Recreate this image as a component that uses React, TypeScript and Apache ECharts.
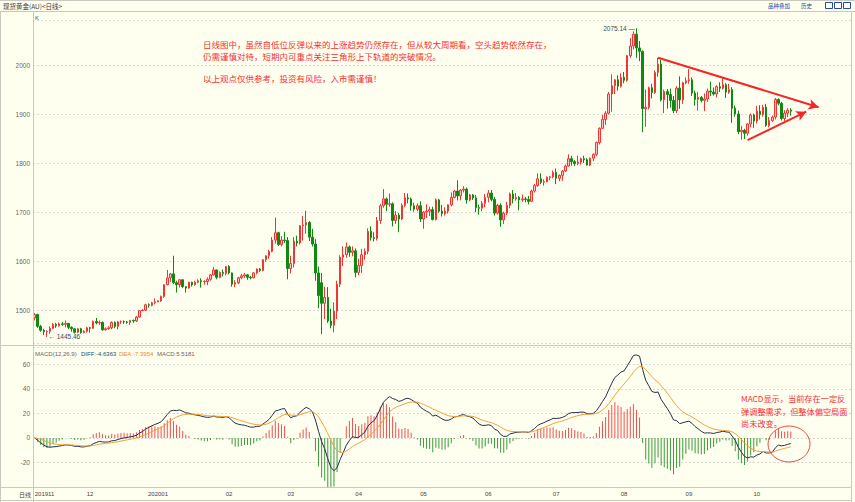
import React, { useEffect, useRef } from "react";
import * as echarts from "echarts";

// ---- daily candles: [open, close, low, high] ----
const nov2019Days = [6, 7, 8, 11, 12, 13, 14, 15, 18, 19, 20, 21, 22, 25, 26, 27, 28, 29];
const nov2019 = [
  [1484, 1491, 1479, 1494], [1491, 1467, 1464, 1493], [1467, 1459, 1456, 1470], [1459, 1456, 1449, 1462],
  [1456, 1457, 1445.46, 1459], [1457, 1463, 1452, 1467], [1463, 1471, 1461, 1474], [1471, 1468, 1464, 1474],
  [1468, 1472, 1466, 1475], [1472, 1471, 1468, 1476], [1471, 1473, 1465, 1479], [1473, 1465, 1461, 1474],
  [1465, 1462, 1456, 1467], [1462, 1455, 1452, 1463], [1455, 1462, 1453, 1464], [1462, 1454, 1452, 1464],
  [1454, 1457, 1453, 1459], [1457, 1464, 1454, 1466],
];
const dec2019Days = [2, 3, 4, 5, 6, 9, 10, 11, 12, 13, 16, 17, 18, 19, 20, 23, 24, 25, 26, 27, 30, 31];
const dec2019 = [
  [1464, 1463, 1454, 1466], [1463, 1477, 1462, 1479], [1477, 1474, 1471, 1484], [1474, 1475, 1470, 1479],
  [1475, 1460, 1458, 1477], [1460, 1462, 1458, 1465], [1462, 1464, 1460, 1467], [1464, 1475, 1461, 1477],
  [1475, 1467, 1463, 1477], [1467, 1476, 1461, 1478], [1476, 1476.5, 1472, 1479], [1476.5, 1476, 1472, 1479],
  [1476, 1475, 1472, 1478], [1475, 1479, 1470, 1480], [1479, 1478, 1474, 1481], [1478, 1486, 1476, 1488],
  [1486, 1499, 1485, 1500], [1499, 1500, 1498, 1502], [1500, 1511, 1498, 1513], [1511, 1510, 1505, 1514],
  [1510, 1515, 1508, 1517], [1515, 1517, 1512, 1524],
];
const jan2020Days = [1, 2, 3, 6, 7, 8, 9, 10, 13, 14, 15, 16, 17, 20, 21, 22, 23, 24, 27, 28, 29, 30, 31];
const jan2020 = [
  [1517, 1519, 1516, 1520], [1519, 1528, 1517, 1530], [1528, 1552, 1525, 1553], [1552, 1566, 1551, 1582],
  [1566, 1574, 1558, 1576], [1574, 1556, 1553, 1611], [1556, 1552, 1536, 1560], [1552, 1562, 1546, 1563],
  [1562, 1548, 1545, 1563], [1548, 1545, 1536, 1549], [1545, 1557, 1544, 1558], [1557, 1552, 1548, 1558],
  [1552, 1557, 1550, 1560], [1557, 1560, 1555, 1563], [1560, 1558, 1546, 1565], [1558, 1558.5, 1552, 1561],
  [1558.5, 1563, 1551, 1567], [1563, 1572, 1560, 1574], [1572, 1582, 1571, 1588], [1582, 1567, 1563, 1583],
  [1567, 1577, 1565, 1579], [1577, 1575, 1569, 1583], [1575, 1589, 1571, 1590],
];
const feb2020Days = [3, 4, 5, 6, 7, 10, 11, 12, 13, 14, 17, 18, 19, 20, 21, 24, 25, 26, 27, 28];
const feb2020 = [
  [1589, 1576, 1573, 1592], [1576, 1553, 1548, 1577], [1553, 1556, 1547, 1561], [1556, 1566, 1553, 1568],
  [1566, 1570, 1563, 1574], [1570, 1572, 1566, 1576], [1572, 1567, 1562, 1574], [1567, 1566, 1563, 1570],
  [1566, 1576, 1565, 1578], [1576, 1584, 1573, 1585], [1584, 1581, 1578, 1586], [1581, 1603, 1579, 1604],
  [1603, 1611, 1599, 1612], [1611, 1620, 1605, 1623], [1620, 1643, 1618, 1649], [1643, 1658, 1636, 1689],
  [1658, 1634, 1631, 1660], [1634, 1643, 1630, 1651], [1643, 1642, 1637, 1660], [1642, 1585, 1563, 1649],
];
const mar2020Days = [2, 3, 4, 5, 6, 9, 10, 11, 12, 13, 16, 17, 18, 19, 20, 23, 24, 25, 26, 27, 30, 31];
const mar2020 = [
  [1585, 1595, 1575, 1611], [1595, 1641, 1587, 1649], [1641, 1637, 1630, 1652], [1637, 1672, 1634, 1674],
  [1672, 1674, 1642, 1692], [1674, 1679, 1656, 1703], [1679, 1649, 1641, 1682], [1649, 1635, 1630, 1666],
  [1635, 1576, 1560, 1645], [1576, 1530, 1504, 1589], [1556, 1514, 1451, 1576], [1514, 1526, 1482, 1548],
  [1526, 1478, 1474, 1547], [1478, 1469, 1463, 1503], [1469, 1498, 1455, 1516], [1498, 1553, 1482, 1560],
  [1553, 1608, 1547, 1612], [1608, 1613, 1590, 1630], [1613, 1629, 1607, 1638], [1629, 1618, 1609, 1632],
  [1618, 1621, 1610, 1630], [1621, 1577, 1567, 1626],
];
const apr2020Days = [1, 2, 3, 6, 7, 8, 9, 13, 14, 15, 16, 17, 20, 21, 22, 23, 24, 27, 28, 29, 30];
const apr2020 = [
  [1577, 1591, 1571, 1605], [1591, 1613, 1576, 1625], [1613, 1620, 1603, 1626], [1620, 1661, 1614, 1667],
  [1661, 1648, 1642, 1671], [1648, 1646, 1640, 1659], [1646, 1683, 1642, 1690], [1683, 1713, 1676, 1717],
  [1713, 1727, 1709, 1747], [1727, 1716, 1702, 1730], [1716, 1717, 1711, 1738], [1717, 1683, 1671, 1720],
  [1683, 1694, 1676, 1702], [1694, 1686, 1659, 1698], [1686, 1714, 1684, 1718], [1714, 1729, 1710, 1739],
  [1729, 1727, 1718, 1738], [1727, 1713, 1703, 1730], [1713, 1706, 1701, 1719], [1706, 1713, 1702, 1718],
  [1713, 1686, 1680, 1722],
];
const may2020Days = [1, 4, 5, 6, 7, 8, 11, 12, 13, 14, 15, 18, 19, 20, 21, 22, 25, 26, 27, 28, 29];
const may2020 = [
  [1686, 1700, 1666, 1702], [1700, 1702, 1688, 1716], [1702, 1705, 1692, 1711], [1705, 1685, 1683, 1711],
  [1685, 1725, 1683, 1728], [1725, 1702, 1699, 1727], [1702, 1697, 1691, 1715], [1697, 1702, 1693, 1710],
  [1702, 1715, 1697, 1716], [1715, 1730, 1712, 1740], [1730, 1743, 1728, 1745], [1743, 1733, 1724, 1765],
  [1733, 1745, 1724, 1747], [1745, 1747, 1740, 1753], [1747, 1725, 1717, 1750], [1725, 1735, 1722, 1737],
  [1735, 1729, 1725, 1737], [1729, 1709, 1700, 1735], [1709, 1708, 1695, 1715], [1708, 1718, 1702, 1723],
  [1718, 1730, 1710, 1737],
];
const jun2020Days = [1, 2, 3, 4, 5, 8, 9, 10, 11, 12, 15, 16, 17, 18, 19, 22, 23, 24, 25, 26, 29, 30];
const jun2020 = [
  [1730, 1739, 1720, 1745], [1739, 1726, 1722, 1745], [1726, 1698, 1693, 1731], [1698, 1714, 1695, 1717],
  [1714, 1684, 1670, 1718], [1684, 1698, 1676, 1701], [1698, 1714, 1694, 1721], [1714, 1737, 1708, 1740],
  [1737, 1727, 1718, 1745], [1727, 1730, 1723, 1739], [1730, 1725, 1704, 1733], [1725, 1727, 1721, 1736],
  [1727, 1726, 1720, 1731], [1726, 1722, 1716, 1733], [1722, 1743, 1721, 1746], [1743, 1754, 1740, 1758],
  [1754, 1768, 1752, 1779], [1768, 1761, 1757, 1779], [1761, 1762, 1754, 1767], [1762, 1771, 1761, 1773],
  [1771, 1772, 1765, 1774], [1772, 1781, 1769, 1785],
];
const jul2020Days = [1, 2, 6, 7, 8, 9, 10, 13, 14, 15, 16, 17, 20, 21, 22, 23, 24, 27, 28, 29, 30, 31];
const jul2020 = [
  [1781, 1769, 1757, 1789], [1769, 1775, 1763, 1777], [1775, 1784, 1764, 1786], [1784, 1794, 1782, 1797],
  [1794, 1809, 1793, 1818], [1809, 1803, 1795, 1815], [1803, 1799, 1794, 1806], [1799, 1802, 1796, 1815],
  [1802, 1809, 1797, 1811], [1809, 1807, 1800, 1815], [1807, 1796, 1795, 1810], [1796, 1810, 1794, 1811],
  [1810, 1818, 1804, 1820], [1818, 1842, 1814, 1844], [1842, 1871, 1838, 1873], [1871, 1889, 1870, 1898],
  [1889, 1902, 1878, 1906], [1902, 1941, 1899, 1945], [1941, 1958, 1905, 1981], [1958, 1970, 1941, 1971],
  [1970, 1957, 1948, 1979], [1957, 1975, 1954, 1983],
];
const aug2020Days = [3, 4, 5, 6, 7, 10, 11, 12, 13, 14, 17, 18, 19, 20, 21, 24, 25, 26, 27, 28, 31];
const aug2020 = [
  [1975, 1969, 1963, 1986], [1969, 2019, 1966, 2021], [2019, 2039, 2015, 2055], [2039, 2063, 2032, 2069],
  [2063, 2035, 2015, 2075.14], [2035, 2028, 2008, 2049], [2028, 1911, 1863, 2030], [1911, 1914, 1874, 1950],
  [1914, 1954, 1910, 1956], [1954, 1944, 1932, 1962], [1944, 1985, 1941, 1989], [1985, 2002, 1976, 2015],
  [2002, 1929, 1926, 2011], [1929, 1946, 1902, 1950], [1946, 1940, 1911, 1951], [1940, 1928, 1913, 1952],
  [1928, 1907, 1902, 1937], [1907, 1953, 1902, 1957], [1953, 1929, 1911, 1977], [1929, 1964, 1921, 1966],
  [1964, 1968, 1961, 1975],
];
const sep2020Days = [1, 2, 3, 4, 7, 8, 9, 10, 11, 14, 15, 16, 17, 18, 21, 22, 23, 24, 25, 28, 29, 30];
const sep2020 = [
  [1968, 1970, 1962, 1992], [1970, 1943, 1937, 1975], [1943, 1930, 1917, 1948], [1930, 1934, 1907, 1945],
  [1934, 1928, 1924, 1937], [1928, 1931, 1906, 1942], [1931, 1947, 1925, 1952], [1947, 1945, 1937, 1966],
  [1945, 1941, 1938, 1954], [1941, 1956, 1934, 1959], [1956, 1953, 1945, 1965], [1953, 1960, 1950, 1973],
  [1960, 1945, 1933, 1963], [1945, 1950, 1941, 1962], [1950, 1912, 1882, 1955], [1912, 1900, 1895, 1917],
  [1900, 1864, 1859, 1907], [1864, 1867, 1848, 1876], [1867, 1861, 1849, 1870], [1861, 1880, 1856, 1882],
  [1880, 1898, 1873, 1901], [1898, 1886, 1872, 1901],
];
const oct2020Days = [1, 2, 5, 6, 7, 8, 9, 12, 13, 14, 15, 16];
const oct2020 = [
  [1886, 1906, 1881, 1917], [1906, 1899, 1889, 1918], [1899, 1914, 1895, 1919], [1914, 1877, 1874, 1921],
  [1877, 1887, 1873, 1894], [1887, 1894, 1884, 1897], [1894, 1930, 1889, 1933], [1930, 1922, 1918, 1932],
  [1922, 1891, 1887, 1925], [1891, 1902, 1886, 1908], [1902, 1908, 1894, 1912], [1908, 1906, 1897, 1912],
];

const monthList: [string, number[], number[][]][] = [
  ["2019-11", nov2019Days, nov2019], ["2019-12", dec2019Days, dec2019], ["2020-01", jan2020Days, jan2020],
  ["2020-02", feb2020Days, feb2020], ["2020-03", mar2020Days, mar2020], ["2020-04", apr2020Days, apr2020],
  ["2020-05", may2020Days, may2020], ["2020-06", jun2020Days, jun2020], ["2020-07", jul2020Days, jul2020],
  ["2020-08", aug2020Days, aug2020], ["2020-09", sep2020Days, sep2020], ["2020-10", oct2020Days, oct2020],
];
const blankSlots = 19;

// y-axis ranges
const priceMin = 1433;
const priceMax = 2092;
const macdMin = -40;
const macdMax = 74;

// annotation anchors (category index, price)
const peakPoint = [195, 2075.14];
const lowPoint = [4, 1445.46];
const upperTrend = [[202, 2015], [254, 1914]];
const lowerTrend = [[231, 1847], [250, 1905]];

// header texts
const titleText = "现货黄金(AU)<日线>";
const macdTitle = "MACD(12,26,9)";
const diffText = "DIFF:-4.6363";
const deaText = "DEA:-7.3954";
const macdText = "MACD:5.5181";
const note1 = "日线图中，虽然自低位反弹以来的上涨趋势仍然存在，但从较大周期看，空头趋势依然存在，";
const note2 = "仍需谨慎对待，短期内可重点关注三角形上下轨道的突破情况。";
const note3 = "以上观点仅供参考，投资有风险，入市需谨慎！";
const macdNote = ["MACD显示，当前存在一定反", "弹调整需求，但整体偏空局面", "尚未改变。"];

const BG = "#FFFFF0";
const UP = "#F03535";
const UP_FILL = "#FFC4C4";
const DOWN = "#0E8A12";
const RED_NOTE = "#F53030";
const BORDER = "#C9C9C0";
const NUM_FONT = '"Liberation Sans", Arial, sans-serif';
const CJK_FONT = '"Noto Sans CJK SC", sans-serif';

function ema(src: number[], n: number): number[] {
  const k = 2 / (n + 1);
  const out: number[] = [];
  src.forEach((v, i) => {
    out.push(i === 0 ? v : out[i - 1] + k * (v - out[i - 1]));
  });
  return out;
}

function buildOption() {
  const dates: string[] = [];
  const candles: number[][] = [];
  monthList.forEach(([ym, days, rows]) => {
    days.forEach((d, i) => {
      dates.push(`${ym}-${String(d).padStart(2, "0")}`);
      candles.push(rows[i]);
    });
  });
  const categories = dates.slice();
  for (let i = 0; i < blankSlots; i++) categories.push(`blank-${i}`);

  // MACD(12,26,9) indicator derived from closes
  const closes = candles.map((c) => c[1]);
  const e12 = ema(closes, 12);
  const e26 = ema(closes, 26);
  const diff = e12.map((v, i) => v - e26[i]);
  const dea = ema(diff, 9);
  const hist = diff.map((v, i) => 2 * (v - dea[i]));

  const monthStart = (idx: number) => {
    if (idx >= dates.length) return false;
    if (idx === 0) return true;
    return dates[idx].slice(0, 7) !== dates[idx - 1].slice(0, 7);
  };
  const dateLabel = (value: string, idx: number) => {
    if (!monthStart(idx)) return "";
    if (idx === 0) return "{first|" + value.slice(0, 4) + value.slice(5, 7) + "}";
    const m = value.slice(5, 7);
    if (m === "01") return value.slice(0, 4) + m;
    return m;
  };

  const line = (x1: number, y1: number, x2: number, y2: number) => ({
    type: "line",
    z: 50,
    silent: true,
    shape: { x1, y1, x2, y2 },
    style: { stroke: BORDER, lineWidth: 1 },
  });
  const text = (x: number, y: number, t: string, fill: string, font: string, align = "left") => ({
    type: "text",
    z: 60,
    silent: true,
    x,
    y,
    style: { text: t, fill, font, align, textAlign: align, verticalAlign: "middle", textVerticalAlign: "middle" },
  });

  return {
    animation: false,
    backgroundColor: BG,
    grid: [
      { left: 33, right: 4, top: 20, height: 323 },
      { left: 33, right: 4, top: 347, height: 140 },
    ],
    xAxis: [
      {
        type: "category",
        gridIndex: 0,
        data: categories,
        boundaryGap: true,
        axisLine: { show: false },
        axisTick: { show: false },
        axisLabel: { show: false },
        splitLine: { show: false },
      },
      {
        type: "category",
        gridIndex: 1,
        data: categories,
        boundaryGap: true,
        axisLine: { show: false },
        axisTick: { show: false },
        axisLabel: {
          show: true,
          interval: (idx: number) => monthStart(idx),
          formatter: dateLabel,
          margin: 4,
          color: "#444",
          fontSize: 6,
          fontFamily: NUM_FONT,
          rich: { first: { padding: [0, 0, 0, 20], fontSize: 6, color: "#444", fontFamily: NUM_FONT } },
        },
        splitLine: { show: false },
      },
    ],
    yAxis: [
      {
        type: "value",
        gridIndex: 0,
        min: priceMin,
        max: priceMax,
        splitNumber: 7,
        axisLine: { show: false },
        axisTick: { show: false },
        axisLabel: {
          color: "#666",
          fontSize: 6.5,
          fontFamily: NUM_FONT,
          margin: 3,
          showMinLabel: false,
          showMaxLabel: false,
          formatter: (v: number) => String(v),
        },
        splitLine: { lineStyle: { color: "#DADAD4", type: [2, 2], width: 1 } },
      },
      {
        type: "value",
        gridIndex: 1,
        min: macdMin,
        max: macdMax,
        interval: 20,
        axisLine: { show: false },
        axisTick: { show: false },
        axisLabel: {
          color: "#666",
          fontSize: 6.5,
          fontFamily: NUM_FONT,
          margin: 3,
          showMaxLabel: false,
          formatter: (v: number) => (v === macdMin || v > 60 ? "" : String(v)),
        },
        splitLine: { lineStyle: { color: "#DADAD4", type: [2, 2], width: 1 } },
      },
    ],
    series: [
      {
        type: "candlestick",
        xAxisIndex: 0,
        yAxisIndex: 0,
        data: candles,
        barWidth: 2,
        itemStyle: {
          color: UP_FILL,
          color0: DOWN,
          borderColor: UP,
          borderColor0: DOWN,
          borderWidth: 1,
        },
        markPoint: {
          silent: true,
          symbol: "circle",
          symbolSize: 1,
          itemStyle: { color: "rgba(0,0,0,0)" },
          data: [
            {
              coord: peakPoint,
              label: {
                show: true,
                position: "left",
                distance: 1,
                formatter: "2075.14 —",
                color: "#3A4A5C",
                fontSize: 6.5,
                fontFamily: NUM_FONT,
              },
            },
            {
              coord: lowPoint,
              label: {
                show: true,
                position: "right",
                distance: 1,
                formatter: "← 1445.46",
                color: "#3A4A5C",
                fontSize: 6.5,
                fontFamily: NUM_FONT,
              },
            },
          ],
        },
        markLine: {
          silent: true,
          symbol: ["none", "arrow"],
          symbolSize: [8, 10],
          label: { show: false },
          lineStyle: { color: "#F52525", width: 2, type: "solid" },
          emphasis: { disabled: true },
          data: [
            [{ coord: upperTrend[0] }, { coord: upperTrend[1] }],
            [{ coord: lowerTrend[0] }, { coord: lowerTrend[1] }],
          ],
        },
      },
      {
        type: "bar",
        name: "MACD",
        xAxisIndex: 1,
        yAxisIndex: 1,
        data: hist,
        barWidth: 1,
        itemStyle: {
          color: (p: any) => (p.value >= 0 ? "#F05050" : "#3C9A3C"),
        },
      },
      {
        type: "line",
        name: "DIFF",
        xAxisIndex: 1,
        yAxisIndex: 1,
        data: diff,
        symbol: "none",
        lineStyle: { color: "#23304A", width: 1 },
      },
      {
        type: "line",
        name: "DEA",
        xAxisIndex: 1,
        yAxisIndex: 1,
        data: dea,
        symbol: "none",
        lineStyle: { color: "#F2A03C", width: 1 },
      },
    ],
    graphic: [
      // panel borders
      line(0, 0.5, 855, 0.5),
      line(0, 11.5, 855, 11.5),
      line(0.5, 11, 0.5, 502),
      line(33.5, 11, 33.5, 502),
      line(851.5, 11, 851.5, 502),
      line(0, 345.5, 852, 345.5),
      line(0, 487.5, 852, 487.5),
      line(0, 500.5, 852, 500.5),
      // header
      text(3, 6, titleText, "#333", `6.5px ${CJK_FONT}`),
      text(768, 6, "品种叠加", "#2848A8", `5.5px ${CJK_FONT}`),
      text(801, 6, "历史", "#2848A8", `5.5px ${CJK_FONT}`),
      { type: "rect", z: 60, silent: true, shape: { x: 825.5, y: 2.5, width: 7, height: 6 }, style: { fill: "none", stroke: "#2848A8", lineWidth: 1 } },
      { type: "rect", z: 60, silent: true, shape: { x: 834.5, y: 2.5, width: 7, height: 6 }, style: { fill: "none", stroke: "#2848A8", lineWidth: 1 } },
      { type: "rect", z: 60, silent: true, shape: { x: 843.5, y: 2.5, width: 7, height: 6 }, style: { fill: "none", stroke: "#2848A8", lineWidth: 1 } },
      text(35, 18, "K", "#555", `6px ${NUM_FONT}`),
      // MACD header
      text(35, 354, macdTitle, "#666", `6px ${NUM_FONT}`),
      text(81, 354, diffText, "#2A4A6A", `6px ${NUM_FONT}`),
      text(119, 354, deaText, "#F08A20", `6px ${NUM_FONT}`),
      text(157, 354, macdText, "#666", `6px ${NUM_FONT}`),
      // bottom-left cell
      text(19, 494, "日线", "#444", `6px ${CJK_FONT}`),
      // notes
      text(203, 44, note1, RED_NOTE, `8.5px ${CJK_FONT}`),
      text(203, 56, note2, RED_NOTE, `8.5px ${CJK_FONT}`),
      text(203, 78, note3, RED_NOTE, `8.5px ${CJK_FONT}`),
      text(741, 398, macdNote[0], RED_NOTE, `8.2px ${CJK_FONT}`),
      text(741, 411, macdNote[1], RED_NOTE, `8.2px ${CJK_FONT}`),
      text(741, 423, macdNote[2], RED_NOTE, `8.2px ${CJK_FONT}`),
      {
        type: "ellipse",
        z: 60,
        silent: true,
        shape: { cx: 789, cy: 444, rx: 21, ry: 18 },
        style: { fill: "none", stroke: "#F04848", lineWidth: 1 },
      },
    ],
  };
}

export default function App() {
  const ref = useRef<HTMLDivElement>(null);
  useEffect(() => {
    if (!ref.current) return;
    const chart = echarts.init(ref.current, null, { renderer: "svg" });
    chart.setOption(buildOption() as any);
    return () => chart.dispose();
  }, []);
  return (
    <div
      ref={ref}
      style={{ position: "fixed", left: 0, top: 0, width: 855, height: 502, background: BG }}
    />
  );
}
